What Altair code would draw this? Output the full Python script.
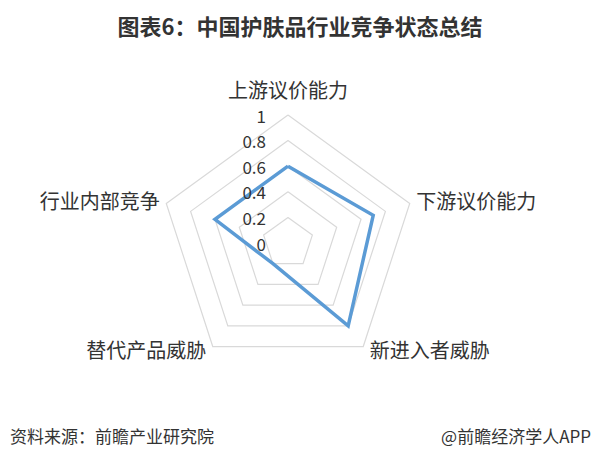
import altair as alt
import pandas as pd

# ---- data ----
categories = ["上游议价能力", "下游议价能力", "新进入者威胁", "替代产品威胁", "行业内部竞争"]
values = [0.6, 0.7, 0.8, 0.2, 0.6]
ring_levels = [0.2, 0.4, 0.6, 0.8, 1.0]
tick_values = [0, 0.2, 0.4, 0.6, 0.8, 1.0]
tick_labels = ["0", "0.2", "0.4", "0.6", "0.8", "1"]
title_text = "图表6：中国护肤品行业竞争状态总结"
source_text = "资料来源：前瞻产业研究院"
brand_text = "@前瞻经济学人APP"

n = len(categories)
FONT = "Noto Sans CJK SC"

series_df = pd.DataFrame({
    "category": categories + [categories[0]],
    "value": values + [values[0]],
    "idx": list(range(n)) + [n],
})
rings_df = pd.DataFrame(
    [{"level": lv, "idx": i} for lv in ring_levels for i in range(n + 1)]
)
ticks_df = pd.DataFrame({"tick": tick_values, "label": tick_labels})
labels_df = pd.DataFrame({"category": categories, "idx": list(range(n))})

W, H = 584, 453
CX, CY, R = 280, 235, 128  # centre and outer radius in px (layout only)
xscale = alt.Scale(domain=[-CX / R, (W - CX) / R], nice=False, zero=False)
yscale = alt.Scale(domain=[-(H - CY) / R, CY / R], nice=False, zero=False)

ang = f"datum.idx * 2 * PI / {n}"

rings = alt.Chart(rings_df).transform_calculate(
    x=f"datum.level * sin({ang})", y=f"datum.level * cos({ang})"
).mark_line(color="#D9D9D9", strokeWidth=1.2).encode(
    x=alt.X("x:Q", scale=xscale, axis=None),
    y=alt.Y("y:Q", scale=yscale, axis=None),
    detail="level:N",
    order="idx:Q",
)

series = alt.Chart(series_df).transform_calculate(
    x=f"datum.value * sin({ang})", y=f"datum.value * cos({ang})"
).mark_line(color="#5B9BD5", strokeWidth=3.5, strokeJoin="miter").encode(
    x=alt.X("x:Q", scale=xscale, axis=None),
    y=alt.Y("y:Q", scale=yscale, axis=None),
    order="idx:Q",
)

ticks = alt.Chart(ticks_df).transform_calculate(x="0").mark_text(
    align="right", baseline="middle", dx=-22, dy=2.5, font=FONT, fontSize=17, color="#333333"
).encode(
    x=alt.X("x:Q", scale=xscale, axis=None),
    y=alt.Y("tick:Q", scale=yscale, axis=None),
    text="label:N",
)

lab_base = alt.Chart(labels_df).transform_calculate(
    s=f"sin({ang})", c=f"cos({ang})"
).transform_calculate(
    r="datum.c > 0.99 ? 1.18 : 1.0"
).transform_calculate(
    x="datum.s * datum.r + (datum.s > 0.1 ? 0.05 : (datum.s < -0.1 ? -0.05 : 0))",
    y="datum.c * datum.r + (datum.c < 0 ? -0.043 : 0)",
)

def label_layer(filt, align):
    return lab_base.transform_filter(filt).mark_text(
        align=align, baseline="middle", font=FONT, fontSize=20, color="#333333"
    ).encode(
        x=alt.X("x:Q", scale=xscale, axis=None),
        y=alt.Y("y:Q", scale=yscale, axis=None),
        text="category:N",
    )

lab_center = label_layer("abs(datum.s) <= 0.1", "center")
lab_right = label_layer("datum.s > 0.1", "left")
lab_left = label_layer("datum.s < -0.1", "right")

text_df = pd.DataFrame({"t": [title_text]})
title = alt.Chart(text_df).mark_text(
    align="center", baseline="middle", font=FONT, fontSize=22, fontWeight="bold", color="#333333"
).encode(x=alt.value(292), y=alt.value(20), text="t:N")

src_df = pd.DataFrame({"t": [source_text]})
source = alt.Chart(src_df).mark_text(
    align="left", baseline="middle", font=FONT, fontSize=17, color="#333333"
).encode(x=alt.value(2), y=alt.value(430), text="t:N")

brand_df = pd.DataFrame({"t": [brand_text]})
brand = alt.Chart(brand_df).mark_text(
    align="right", baseline="middle", font=FONT, fontSize=17, color="#333333"
).encode(x=alt.value(583), y=alt.value(430), text="t:N")

chart = alt.layer(
    rings, series, ticks, lab_center, lab_right, lab_left, title, source, brand
).properties(
    width=W, height=H, padding=0, autosize=alt.AutoSizeParams(type="none"),
    background="white",
).configure_view(strokeWidth=0)

chart.save("out.html", embed_options={"renderer": "svg", "actions": False})
